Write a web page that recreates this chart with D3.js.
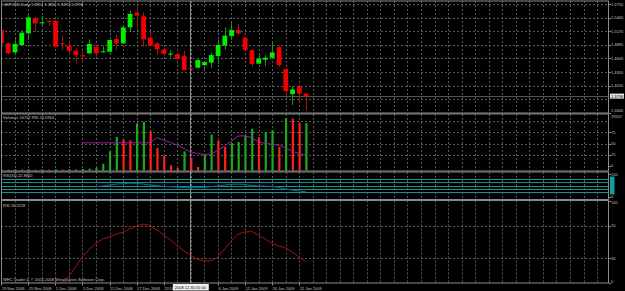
<!DOCTYPE html>
<meta charset="utf-8">
<html>
<head>
    <script src="https://d3js.org/d3.v7.min.js"></script>
    <style>
        body { margin: 0; background: #000; }
        text { font-family: "Liberation Sans", Arial, sans-serif; font-size: 4px; fill: #c4c4c4; }
    </style>
</head>
<body>
<script>

// bar numbers, -1 is the candle cut off at the left edge
const bars = [-1, 0, 1, 2, 3, 4, 5, 6, 7, 8, 9, 10, 11, 12, 13, 14, 15, 16, 17, 18, 19, 20, 21,
    22, 23, 24, 25, 26, 27, 28, 29, 30, 31, 32, 33, 34, 35, 36, 37, 38, 39, 40, 41, 42, 43, 44];

// GBPUSD daily candles
const open = [1.5199, 1.4916, 1.4725, 1.4881, 1.5128, 1.5446, 1.5355, 1.5392, 1.5390, 1.4918, 1.4866, 1.4760, 1.4663,
    1.4704, 1.4845, 1.4744, 1.4739, 1.5008, 1.4916, 1.5255, 1.5566, 1.5489, 1.5036, 1.4916, 1.4789, 1.4695, 1.4690,
    1.4647, 1.4388, 1.4400, 1.4456, 1.4506, 1.4647, 1.4866, 1.5072, 1.5199, 1.5036, 1.4774, 1.4485, 1.4569, 1.4612,
    1.4838, 1.4372, 1.3841, 1.4011, 1.3851];
const high = [1.5230, 1.4930, 1.5022, 1.5199, 1.5517, 1.5481, 1.5496, 1.5411, 1.5411, 1.5079, 1.4951, 1.4810, 1.4739,
    1.5001, 1.4866, 1.4866, 1.5001, 1.5093, 1.5284, 1.5609, 1.5694, 1.5573, 1.5163, 1.4951, 1.4810, 1.4774, 1.4704,
    1.4760, 1.4393, 1.4577, 1.4527, 1.4718, 1.5001, 1.5255, 1.5354, 1.5326, 1.5050, 1.4789, 1.4668, 1.4661, 1.4951,
    1.4866, 1.4386, 1.4011, 1.4018, 1.3852];
const low = [1.4905, 1.4690, 1.4704, 1.4866, 1.4987, 1.5163, 1.5291, 1.5284, 1.4831, 1.4774, 1.4668, 1.4492, 1.4506,
    1.4690, 1.4633, 1.4718, 1.4725, 1.4774, 1.4902, 1.5163, 1.5234, 1.4845, 1.4845, 1.4668, 1.4647, 1.4619, 1.4562,
    1.4336, 1.4372, 1.4386, 1.4336, 1.4386, 1.4470, 1.4774, 1.4987, 1.5079, 1.4760, 1.4421, 1.4470, 1.4435, 1.4598,
    1.4421, 1.3799, 1.3608, 1.3657, 1.3492];
const close = [1.4916, 1.4704, 1.4902, 1.5142, 1.5467, 1.5340, 1.5361, 1.5388, 1.4845, 1.4914, 1.4760, 1.4668, 1.4659,
    1.4902, 1.4704, 1.4748, 1.4987, 1.4916, 1.5255, 1.5538, 1.5503, 1.5001, 1.4866, 1.4789, 1.4690, 1.4699, 1.4584,
    1.4350, 1.4384, 1.4562, 1.4520, 1.4668, 1.4881, 1.5079, 1.5199, 1.5128, 1.4774, 1.4478, 1.4591, 1.4612, 1.4725,
    1.4456, 1.3905, 1.3940, 1.3848, 1.3798];

const volume = [300, 250, 380, 330, 420, 260, 350, 280, 400, 310, 450, 360, 520, 645, 1000, 2400, 6740, 11775,
    10720, 10600, 16460, 17050, 13770, 7910, 5100, 1815, 880, 6740, 4510, 1230, 5330, 12595, 10500, 8260, 9665,
    10020, 12125, 14705, 11660, 13530, 14120, 8260, 18455, 18220, 16650, 16702];

// RSI drawn over the volumes
const volRsi = [null, null, null, null, null, null, null, null, null, null, null, null, 51.5, 51.5, 51.5, 51.5,
    51.5, 51.5, 51.5, 51.5, 51.5, 51.5, 51.5, 62.9, 57.6, 52.3, 46.2, 38.6, 31, 27.3, 25.8, 25.8, 34.8, 44.7, 55.3,
    66.7, 67.4, 62.9, 53.8, 50, 48.5, 46.2, 40.2, 32.6, 27.3, 24.1];

const rsi34 = [null, null, null, null, null, null, null, null, null, null, null, null, null, null, 45, 48, 52, 56,
    58, 60, 59, 56, 52, 49, 46, 45, 43, 41, 40, 41, 42, 45, 48, 52, 55, 56, 54, 50, 48, 47, 46, 42, 34, 30, 26, 22.88];

const rsi14 = [0, 0, 0, 0, 0, 0, 0, 0, 0, 0, 8, 20, 32, 41, 48.4, 53.7, 56.5, 59.8, 61.8, 65.9, 69.5, 72, 69.9,
    64.6, 58.5, 52.4, 45.7, 39, 34.1, 28.7, 26.8, 26.8, 31.7, 41.5, 51.2, 59.8, 62.2, 62.8, 58.5, 53.7, 48.2, 45.1,
    42.7, 37.8, 31.7, 26.32];

const priceTicks = [1.5750, 1.5460, 1.5170, 1.4885, 1.4600, 1.4305, 1.4020, 1.3735, 1.3440];
const volTicks = [75, 50, 25, 0];
const rsi34Levels = [20, 35, 50, 65, 80];
const rsi14Levels = [30, 70];
const rsi14Ticks = [100, 70, 30, 0];

const timeLabels = ["19 Nov 2008", "25 Nov 2008", "1 Dec 2008", "5 Dec 2008", "11 Dec 2008", "17 Dec 2008",
    "23 Dec 2008", "6 Jan 2009", "12 Jan 2009", "16 Jan 2009", "22 Jan 2009"];
const timeLabelBars = [-1, 3, 7, 11, 15, 19, 23, 31, 35, 39, 43];

const volMax = 19507;
const crossBar = 27;

const candles = bars.map((b, i) => ({ bar: b, o: open[i], h: high[i], l: low[i], c: close[i] }));

// layout
const width = 625, height = 291;
const plotLeft = 1, plotRight = 609;
const mainP = { top: 1, bottom: 113 };
const volP = { top: 114, bottom: 171 };
const r34P = { top: 172, bottom: 199.5 };
const r14P = { top: 200.5, bottom: 283 };
const panels = [mainP, volP, r34P, r14P];

const svg = d3.select('body')
    .append('svg')
    .attr('width', width)
    .attr('height', height)
    .style('display', 'block')
    .style('background', '#000');

const x = d3.scaleLinear().domain([-1, 44]).range([1.2, 305.9]);
const y = d3.scaleLinear().domain([1.3440, 1.5750]).range([113, 4]);
const yVol = d3.scaleLinear().domain([0, volMax]).range([170.5, 115]);
const yVolRsi = d3.scaleLinear().domain([0, 100]).range([165.7, 121.3]);
const y34 = d3.scaleLinear().domain([0, 100]).range([197, 174]);
const y14 = d3.scaleLinear().domain([0, 100]).range([283, 201]);

const gridBars = d3.range(-1, 89, 2).filter(b => x(b) < plotRight);
const px = v => Math.round(v) + 0.5;

// clip paths for each sub window
panels.forEach((p, k) => {
    svg.append('clipPath').attr('id', 'clip' + k)
        .append('rect')
        .attr('x', plotLeft).attr('y', p.top)
        .attr('width', plotRight - plotLeft).attr('height', p.bottom - p.top);
});

// vertical grid
panels.forEach(p => {
    svg.append('g').selectAll('line')
        .data(gridBars)
        .enter()
        .append('line')
        .attr('x1', d => px(x(d))).attr('x2', d => px(x(d)))
        .attr('y1', p.top).attr('y2', p.bottom)
        .attr('stroke', '#5a5a5a')
        .attr('stroke-dasharray', '2,2');
});

// horizontal grid
function hgrid(values, scale) {
    svg.append('g').selectAll('line')
        .data(values)
        .enter()
        .append('line')
        .attr('x1', plotLeft).attr('x2', plotRight)
        .attr('y1', d => px(scale(d))).attr('y2', d => px(scale(d)))
        .attr('stroke', '#5a5a5a')
        .attr('stroke-dasharray', '2,2');
}
hgrid(priceTicks, y);
hgrid([100, 75, 50, 25], yVolRsi);
hgrid(rsi14Levels, y14);

// RSI(34) level lines
svg.append('g').selectAll('line')
    .data(rsi34Levels)
    .enter()
    .append('line')
    .attr('x1', plotLeft).attr('x2', plotRight)
    .attr('y1', d => px(y34(d))).attr('y2', d => px(y34(d)))
    .attr('stroke', '#119090');

// bid line
const bid = close[close.length - 1];
svg.append('line')
    .attr('x1', plotLeft).attr('x2', plotRight)
    .attr('y1', px(y(bid))).attr('y2', px(y(bid)))
    .attr('stroke', '#4a5a50');

// crosshair
svg.append('line')
    .attr('x1', px(x(crossBar)) - 1).attr('x2', px(x(crossBar)) - 1)
    .attr('y1', 1).attr('y2', 283)
    .attr('stroke', '#8c8c8c');

// candles
const cg = svg.append('g').attr('clip-path', 'url(#clip0)');
cg.selectAll('line')
    .data(candles)
    .enter()
    .append('line')
    .attr('x1', d => px(x(d.bar))).attr('x2', d => px(x(d.bar)))
    .attr('y1', d => y(d.h)).attr('y2', d => y(d.l))
    .attr('stroke', d => d.c >= d.o ? '#109a10' : '#a51212');

cg.selectAll('rect')
    .data(candles)
    .enter()
    .append('rect')
    .attr('x', d => x(d.bar) - 2.2)
    .attr('width', 4.8)
    .attr('y', d => y(Math.max(d.o, d.c)))
    .attr('height', d => Math.max(1, Math.abs(y(d.o) - y(d.c))))
    .attr('fill', d => d.c >= d.o ? '#00f000' : '#f00000');

// volumes, green when volume rises
const vg = svg.append('g').attr('clip-path', 'url(#clip1)');
vg.selectAll('rect')
    .data(bars)
    .enter()
    .append('rect')
    .attr('x', d => x(d) - 0.6)
    .attr('width', 2.2)
    .attr('y', (d, i) => yVol(volume[i]))
    .attr('height', (d, i) => yVol(0) - yVol(volume[i]))
    .attr('fill', (d, i) => i > 0 && volume[i] > volume[i - 1] ? '#1fa81f' : '#ff2020');

function drawLine(values, scale, color, clipId) {
    const line = d3.line()
        .defined(d => d.v != null)
        .x(d => x(d.bar))
        .y(d => scale(d.v));
    svg.append('path')
        .datum(bars.map((b, i) => ({ bar: b, v: values[i] })))
        .attr('clip-path', 'url(#' + clipId + ')')
        .attr('fill', 'none')
        .attr('stroke', color)
        .attr('stroke-width', 1)
        .attr('d', line);
}
drawLine(volRsi, yVolRsi, '#a020a0', 'clip1');
drawLine(rsi34, y34, '#1b6398', 'clip2');
drawLine(rsi14, y14, '#a01414', 'clip3');

// sub window borders
svg.append('g').selectAll('rect')
    .data(panels)
    .enter()
    .append('rect')
    .attr('x', plotLeft + 0.5)
    .attr('y', d => d.top)
    .attr('width', plotRight - plotLeft - 1)
    .attr('height', d => d.bottom - d.top)
    .attr('fill', 'none')
    .attr('stroke', '#8a8a8a');

// right axis labels
const rx = 611;
function rightLabels(values, scale, p, fmt) {
    const g = svg.append('g');
    g.selectAll('line')
        .data(values)
        .enter()
        .append('line')
        .attr('x1', plotRight).attr('x2', plotRight + 2)
        .attr('y1', d => px(scale(d))).attr('y2', d => px(scale(d)))
        .attr('stroke', '#8a8a8a');
    g.selectAll('text')
        .data(values)
        .enter()
        .append('text')
        .attr('x', rx)
        .attr('y', d => Math.min(p.bottom - 0.5, Math.max(p.top + 3.5, scale(d) + 1.5)))
        .text(fmt);
}
rightLabels(priceTicks.filter(v => Math.abs(y(v) - y(bid)) > 5), y, { top: 0, bottom: 112 }, d => d.toFixed(4));
rightLabels(volTicks, yVolRsi, { top: 114, bottom: 168 }, d => d);
rightLabels([100, 0], y34, { top: 172, bottom: 198.5 }, d => d);
rightLabels(rsi14Ticks, y14, { top: 200.5, bottom: 283 }, d => d);

svg.append('text').attr('x', rx).attr('y', 117.5).text(volMax);

// level markers of RSI(34) on the axis
svg.append('g').selectAll('rect')
    .data(rsi34Levels)
    .enter()
    .append('rect')
    .attr('x', 610).attr('width', 4.5)
    .attr('y', d => y34(d) - 2).attr('height', 4)
    .attr('fill', '#13a0a0');

// bid price box
svg.append('rect')
    .attr('x', 610).attr('y', y(bid) - 2.5)
    .attr('width', 14).attr('height', 5)
    .attr('fill', '#e6e6e6');
svg.append('text')
    .attr('x', rx).attr('y', y(bid) + 1.5)
    .style('fill', '#000')
    .text(bid.toFixed(4));

// time axis
const tg = svg.append('g');
tg.selectAll('line')
    .data(timeLabelBars)
    .enter()
    .append('line')
    .attr('x1', d => px(x(d))).attr('x2', d => px(x(d)))
    .attr('y1', 283).attr('y2', 285.5)
    .attr('stroke', '#8a8a8a');
tg.selectAll('text')
    .data(timeLabels)
    .enter()
    .append('text')
    .attr('x', (d, i) => x(timeLabelBars[i]) + 0.5)
    .attr('y', 289.5)
    .text(d => d);

// crosshair time box
svg.append('rect')
    .attr('x', x(crossBar) - 18).attr('y', 284)
    .attr('width', 36).attr('height', 6.5)
    .attr('fill', '#f0f0f0');
svg.append('text')
    .attr('x', x(crossBar) - 0.5).attr('y', 289)
    .attr('text-anchor', 'middle')
    .style('fill', '#000')
    .text('2008.12.30 05:00');

// window titles
const last = candles[candles.length - 1];
svg.append('text').attr('x', 3).attr('y', 5.5)
    .text('GBPUSD,Daily ' + [last.o, last.h, last.l, last.c].map(v => v.toFixed(4)).join(' '));
svg.append('text').attr('x', 3).attr('y', 118.5)
    .text('Volumes ' + volume[volume.length - 1] + ' RSI 24.0964');
svg.append('text').attr('x', 3).attr('y', 177)
    .text('RSI(34) ' + rsi34[rsi34.length - 1].toFixed(4));
svg.append('text').attr('x', 3).attr('y', 206.5)
    .text('RSI ' + '26.3228');
svg.append('text').attr('x', 3).attr('y', 281)
    .text('WHC Trader 4, \u00a9 2005-2008 MetaQuotes Software Corp.');

</script>
</body>
</html>
